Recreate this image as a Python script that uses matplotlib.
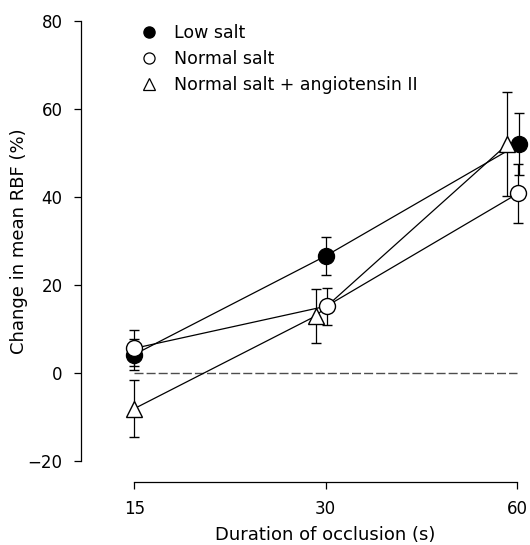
import numpy as np
import matplotlib
matplotlib.use('Agg')
import matplotlib.pyplot as plt
from matplotlib.lines import Line2D

# data
durations = ['15', '30', '60']
low_salt = [4.2, 26.6, 52.0]
low_salt_err = [3.6, 4.3, 7.1]
normal_salt = [5.6, 15.2, 40.8]
normal_salt_err = [4.1, 4.2, 6.8]
normal_ang = [-8.1, 13.0, 52.0]
normal_ang_err = [6.4, 6.1, 11.8]
labels = ['Low salt', 'Normal salt', 'Normal salt + angiotensin II']

plt.rcParams['font.family'] = ['DejaVu Sans']
plt.rcParams['font.size'] = 12

fig = plt.figure(figsize=(5.3, 5.45), dpi=100)
W, H = 530, 545
ax = fig.add_axes([80.7 / W, (H - 461) / H, (W - 80.7) / W, 440 / H])

x = np.arange(len(durations))

# zero reference line
ax.plot([x[0], x[-1]], [0, 0], color='0.3', lw=1, dashes=(6.5, 2.2), zorder=1)

common = dict(color='black', lw=0.9, elinewidth=0.9, capsize=3.5, capthick=0.9,
              markersize=11.5, markeredgewidth=1.0, markeredgecolor='black', clip_on=False)
ax.errorbar(x + 0.01 * np.array([0, 0, 1]), low_salt, yerr=low_salt_err, fmt='-o',
            markerfacecolor='black', zorder=3, **common)
ax.errorbar(x - 0.05 * np.array([0, 1, 1]), normal_ang, yerr=normal_ang_err, fmt='-^',
            markerfacecolor='white', zorder=4, **common)
ax.errorbar(x + 0.005 * np.array([0, 1, 1]), normal_salt, yerr=normal_salt_err, fmt='-o',
            markerfacecolor='white', zorder=5, **common)

ax.set_xlim(-0.280, 2.068)
ax.set_ylim(-20, 80)
ax.set_xticks(x)
ax.set_xticklabels(durations)
ax.set_yticks([-20, 0, 20, 40, 60, 80])
ax.set_yticklabels(['\u221220', '0', '20', '40', '60', '80'])

for s in ['top', 'right']:
    ax.spines[s].set_visible(False)
ax.spines['bottom'].set_position(('outward', 15.1))
ax.spines['bottom'].set_bounds(0, 2)
ax.spines['left'].set_linewidth(0.9)
ax.spines['bottom'].set_linewidth(0.9)
ax.tick_params(axis='both', direction='out', length=5, width=0.9, pad=8, labelsize=12)

ax.set_ylabel('Change in mean RBF (%)', fontsize=13)
ax.yaxis.set_label_coords(-0.118, 0.5)
ax.set_xlabel('Duration of occlusion (s)', fontsize=13)
ax.xaxis.set_label_coords(0.544, -0.148)
ax.xaxis.label.set_va('top')

handles = [
    Line2D([], [], ls='none', marker='o', markersize=8, markerfacecolor='black', markeredgecolor='black'),
    Line2D([], [], ls='none', marker='o', markersize=8, markerfacecolor='white', markeredgecolor='black', markeredgewidth=0.9),
    Line2D([], [], ls='none', marker='^', markersize=8, markerfacecolor='white', markeredgecolor='black', markeredgewidth=0.9),
]
ax.legend(handles, labels, loc='upper left', bbox_to_anchor=(0.1335, 0.993), frameon=False,
          handlelength=1.0, handletextpad=0.93, labelspacing=0.45, borderpad=0, borderaxespad=0,
          fontsize=12.5)

fig.savefig('out.png', dpi=100)
